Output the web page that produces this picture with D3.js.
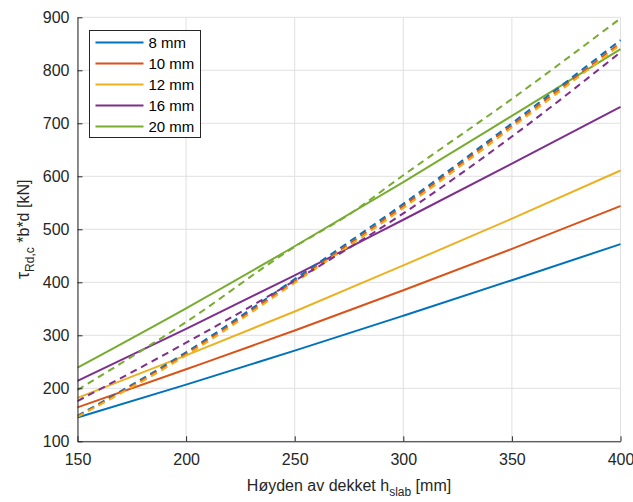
<!DOCTYPE html>
<html>
<head>
<meta charset="utf-8">
<script src="https://cdn.jsdelivr.net/npm/d3@7"></script>
<style>
  body { margin: 0; background: #fff; }
  svg { font-family: "Liberation Sans", Arial, Helvetica, sans-serif; }
</style>
</head>
<body>
<div id="chart"></div>
<script>
// slab height h_slab [mm]
var heights = [150, 200, 250, 300, 350, 400];
var heightsGreenDash = [150, 200, 250, 275, 300, 350, 400];

// solid lines
var solid8 = [145, 207, 271, 337, 404, 472];
var solid10 = [164, 236, 309, 385, 463, 544];
var solid12 = [182, 262, 345, 432, 520, 611];
var solid16 = [214, 312, 413, 518, 624, 731];
var solid20 = [239, 351, 468, 589, 714, 840];

// dashed lines
var dash8 = [148, 268, 406, 548, 700, 857];
var dash10 = [147, 265, 402, 544, 696, 852];
var dash12 = [146, 262, 399, 540, 692, 848];
var dash16 = [176, 286, 403, 530, 675, 834];
var dash20 = [197, 325, 467, 528, 602, 746, 898];

var legendLabels = ["8 mm", "10 mm", "12 mm", "16 mm", "20 mm"];
var colors = ["#0072BD", "#D95319", "#EDB120", "#7E2F8E", "#77AC30"];
var xTicks = [150, 200, 250, 300, 350, 400];
var yTicks = [100, 200, 300, 400, 500, 600, 700, 800, 900];

var width = 633, height = 502;
var margin = {left: 77.5, right: 12.5, top: 17.3, bottom: 60.7};

var svg = d3.select("#chart").append("svg")
    .attr("width", width)
    .attr("height", height);

var x = d3.scaleLinear().domain([150, 400]).range([margin.left, width - margin.right]);
var y = d3.scaleLinear().domain([100, 900]).range([height - margin.bottom, margin.top]);

// grid
svg.append("g").selectAll("line").data(xTicks).enter().append("line")
    .attr("x1", d => x(d)).attr("x2", d => x(d))
    .attr("y1", y(100)).attr("y2", y(900))
    .attr("stroke", "#e0e0e0").attr("stroke-width", 1);
svg.append("g").selectAll("line").data(yTicks).enter().append("line")
    .attr("x1", x(150)).attr("x2", x(400))
    .attr("y1", d => y(d)).attr("y2", d => y(d))
    .attr("stroke", "#e0e0e0").attr("stroke-width", 1);

// series
var series = [
    {xs: heights, ys: solid8, c: 0, dash: false},
    {xs: heights, ys: solid10, c: 1, dash: false},
    {xs: heights, ys: solid12, c: 2, dash: false},
    {xs: heights, ys: solid16, c: 3, dash: false},
    {xs: heights, ys: solid20, c: 4, dash: false},
    {xs: heights, ys: dash8, c: 0, dash: true},
    {xs: heights, ys: dash10, c: 1, dash: true},
    {xs: heights, ys: dash12, c: 2, dash: true},
    {xs: heights, ys: dash16, c: 3, dash: true},
    {xs: heightsGreenDash, ys: dash20, c: 4, dash: true}
];

var line = d3.line()
    .x(d => x(d[0]))
    .y(d => y(d[1]))
    .curve(d3.curveMonotoneX);

var plot = svg.append("g");
series.forEach(function(s) {
    plot.append("path")
        .datum(s.xs.map((v, i) => [v, s.ys[i]]))
        .attr("d", line)
        .attr("fill", "none")
        .attr("stroke", colors[s.c])
        .attr("stroke-width", 2)
        .attr("stroke-dasharray", s.dash ? "7,5" : null);
});

// axes
var xAxis = svg.append("g")
    .attr("transform", "translate(0," + y(100) + ")")
    .call(d3.axisBottom(x).tickValues(xTicks).tickSizeInner(-5).tickSizeOuter(0).tickPadding(12));
var yAxis = svg.append("g")
    .attr("transform", "translate(" + x(150) + ",0)")
    .call(d3.axisLeft(y).tickValues(yTicks).tickSizeInner(-5).tickSizeOuter(0).tickPadding(8));

[xAxis, yAxis].forEach(function(a) {
    a.select(".domain").attr("stroke", "#262626").attr("stroke-width", 1);
    a.selectAll(".tick line").attr("stroke", "#262626");
    a.selectAll(".tick text")
        .attr("fill", "#262626")
        .style("font-size", "16px")
        .style("font-family", "Liberation Sans, Arial, sans-serif");
});

// x label
var xl = svg.append("text")
    .attr("x", (x(150) + x(400)) / 2)
    .attr("y", 491)
    .attr("text-anchor", "middle")
    .attr("fill", "#262626")
    .style("font-size", "16px");
xl.append("tspan").text("Høyden av dekket h");
xl.append("tspan").attr("dy", 5).style("font-size", "12px").text("slab");
xl.append("tspan").attr("dy", -5).text(" [mm]");

// y label
var yl = svg.append("text")
    .attr("transform", "translate(29," + (y(100) + y(900)) / 2 + ") rotate(-90)")
    .attr("text-anchor", "middle")
    .attr("fill", "#262626")
    .style("font-size", "16px");
yl.append("tspan").style("font-size", "18px").text("τ");
yl.append("tspan").attr("dy", 5).style("font-size", "12px").text("Rd,c");
yl.append("tspan").attr("dy", -5).text(" *b*d [kN]");

// legend
var lg = svg.append("g").attr("transform", "translate(89.5,30.5)");
lg.append("rect")
    .attr("width", 111).attr("height", 107)
    .attr("fill", "#fff").attr("stroke", "#262626").attr("stroke-width", 1);
legendLabels.forEach(function(lab, i) {
    var yy = 12 + i * 21;
    lg.append("line")
        .attr("x1", 6).attr("x2", 54)
        .attr("y1", yy).attr("y2", yy)
        .attr("stroke", colors[i]).attr("stroke-width", 2);
    lg.append("text")
        .attr("x", 59).attr("y", yy + 5)
        .attr("fill", "#000")
        .style("font-size", "15px")
        .text(lab);
});
</script>
</body>
</html>
